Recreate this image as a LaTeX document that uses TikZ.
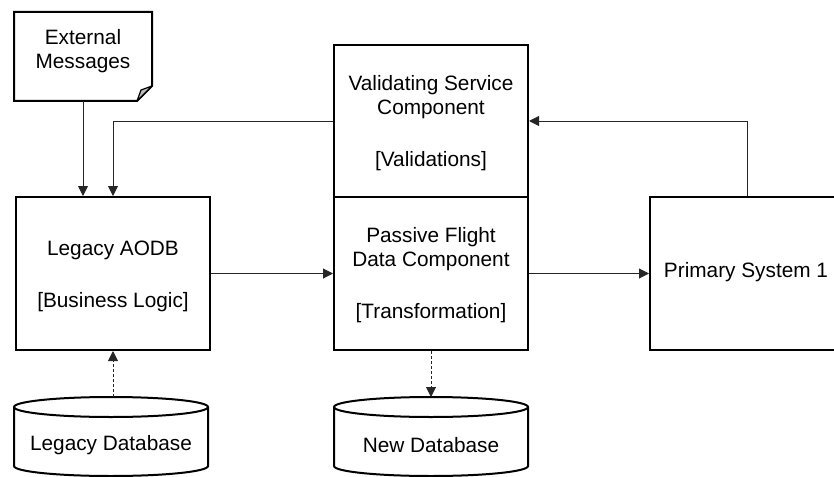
\documentclass[tikz,border=0pt]{standalone}
\usepackage{fontspec}
\setmainfont{Liberation Sans}
\usetikzlibrary{arrows.meta}
\tikzset{
  box/.style={draw=black, line width=2pt, fill=white, align=center,
    font=\fontsize{20.8}{24}\selectfont, inner sep=0pt},
  label/.style={align=center, font=\fontsize{20.8}{24}\selectfont, inner sep=0pt},
  link/.style={draw=black!85, line width=1pt, -{Triangle[length=10pt,width=10pt]}},
  dlink/.style={link, dash pattern=on 3pt off 2pt},
  shapeline/.style={draw=black, line width=2pt, fill=white}
}
\begin{document}
\begin{tikzpicture}[x=1pt,y=-1pt]
\useasboundingbox (0,0) rectangle (834,476);
\clip (0,0) rectangle (834,476);

% external messages (note with folded corner)
\draw[shapeline] (14,12) -- (152,12) -- (152,86) -- (137,101) -- (14,101) -- cycle;
\draw[line width=1.2pt, fill=black!25, line join=round] (152,86) -- (141,90) -- (137,101) -- cycle;
\node[label] (ext) at (83,51) {External\\Messages};
\coordinate (extb) at (83,101);

% main components
\node[box, minimum width=194pt, minimum height=153pt] (aodb) at (113,273.5) {};
\node[label] at (113,276) {Legacy AODB\\[28pt][Business Logic]};

\node[box, minimum width=194pt, minimum height=152pt] (valid) at (431,121) {};
\node[label] at (431,123) {Validating Service\\Component\\[28pt][Validations]};

\node[box, minimum width=194pt, minimum height=153pt] (pass) at (431,273.5) {};
\node[label] at (431,275.5) {Passive Flight\\Data Component\\[28pt][Transformation]};

\node[box, minimum width=194pt, minimum height=153pt] (prim) at (747,273.5) {};
\node[label] at (746,272) {Primary System 1};

% databases (vertical cylinders)
\foreach \cx/\nm/\txt in {111/ldb/Legacy Database, 431/ndb/New Database}{
  \draw[shapeline] (\cx-97,407) -- (\cx-97,466)
     arc[start angle=180, end angle=0, x radius=97, y radius=10]
     -- (\cx+97,407)
     arc[start angle=0, end angle=-180, x radius=97, y radius=10] -- cycle;
  \draw[line width=2pt] (\cx-97,407) arc[start angle=180, end angle=0, x radius=97, y radius=10];
  \node[label] (\nm) at (\cx,445) {\txt};
}
\coordinate (ldbin) at (113,397);
\coordinate (ndbin) at (431,397);

% connectors
\draw[link] (extb) -- (ext |- aodb.north);
\draw[link] (valid.west) -| ([xshift=30pt]ext |- aodb.north);
\draw[link] (aodb.east) -- (pass.west);
\draw[link] (pass.east) -- (prim.west);
\draw[link] (prim.north) |- (valid.east);
\draw[dlink] (ldbin) -- (aodb.south);
\draw[dlink] (pass.south) -- (ndbin);
\end{tikzpicture}
\end{document}
